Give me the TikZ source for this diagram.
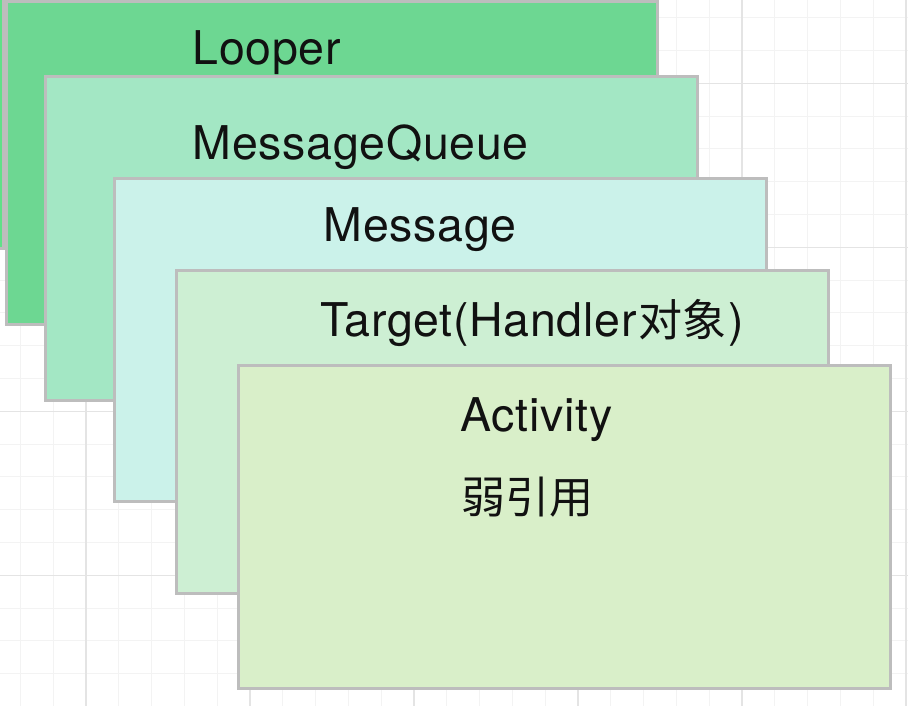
\documentclass[tikz,border=0pt]{standalone}
\usepackage{fontspec}
\setmainfont{TeX Gyre Heros}[LetterSpace=1.5]
\newfontfamily\cjk{Noto Sans CJK SC}
\definecolor{gridminor}{HTML}{F3F3F3}
\definecolor{gridmajor}{HTML}{E4E4E4}
\definecolor{boxline}{HTML}{BDBDBD}
\definecolor{c0}{HTML}{60E088}
\definecolor{c1}{HTML}{6DD792}
\definecolor{c2}{HTML}{A3E7C4}
\definecolor{c3}{HTML}{CBF2EA}
\definecolor{c4}{HTML}{CDEFD3}
\definecolor{c5}{HTML}{D9EFC9}
\definecolor{txt}{HTML}{111111}
\tikzset{
  minorgrid/.style={draw=gridminor, line width=0.9pt},
  majorgrid/.style={draw=gridmajor, line width=1.1pt},
  layerbox/.style={draw=boxline, line width=3pt, rectangle, inner sep=0pt,
    minimum width=652pt, minimum height=323.3pt},
  label/.style={anchor=base west, inner sep=0pt, text=txt, font=\fontsize{46.5}{50}\selectfont},
  cjklabel/.style={anchor=base west, inner sep=0pt, text=txt, font=\fontsize{44}{50}\selectfont\cjk}
}
\begin{document}
\begin{tikzpicture}[x=1pt, y=-1pt]
\clip (0,0) rectangle (908,706);
\fill[white] (0,0) rectangle (908,706);
% grid
\foreach \i in {0,...,27} { \draw[minorgrid] ({20.4+32.8*\i},0) -- ++(0,706); }
\foreach \i in {0,...,21} { \draw[minorgrid] (0,{17.7+32.8*\i}) -- ++(908,0); }
\foreach \x in {86,250,414,578,742,906} { \draw[majorgrid] (\x,0) -- ++(0,706); }
\foreach \y in {83.3,247.5,411.5,575.5} { \draw[majorgrid] (0,\y) -- ++(908,0); }
% layers
\node[layerbox, fill=c0] (b0) at (-322.5,87) {};
\node[layerbox, fill=c1, minimum width=651.5pt, minimum height=323pt] (b1) at (331.75,163) {};
\node[layerbox, fill=c2] (b2) at (371.15,238.35) {};
\node[layerbox, fill=c3] (b3) at (440,340) {};
\node[layerbox, fill=c4] (b4) at (502.3,431.85) {};
\node[layerbox, fill=c5] (b5) at (564.7,526.65) {};
% labels
\node[label] (t1) at (192.5,65) {Looper};
\node[label] (t2) at (192.5,160) {MessageQueue};
\node[label] (t3) at (323.5,241.7) {Message};
\node[label] (t4) at (320,336.7) {Target(Handler{\cjk\fontsize{44}{50}\selectfont\hspace{2pt}对象\hspace{2pt}})};
\node[label] (t5) at (460.5,431.7) {Activity};
\node[cjklabel] (t6) at (461,513) {弱引用};
\end{tikzpicture}
\end{document}
